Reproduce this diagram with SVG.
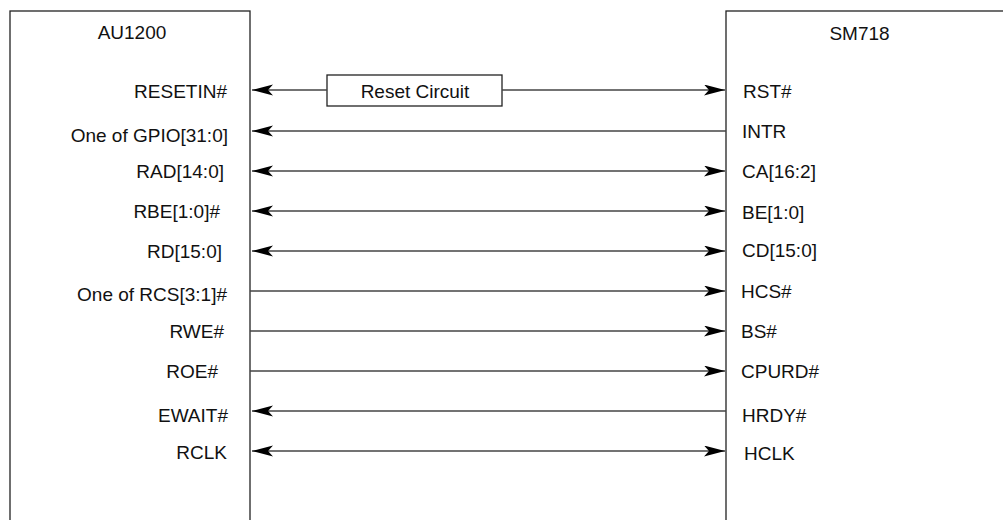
<svg xmlns="http://www.w3.org/2000/svg" width="1003" height="520" viewBox="0 0 1003 520">
<style>
text{font-family:"Liberation Sans",Arial,sans-serif;font-size:19px;fill:#111}
.l{text-anchor:end}
.r{text-anchor:start}
.c{text-anchor:middle}
.box{fill:#fff;stroke:#222;stroke-width:1.3}
.w{fill:none;stroke:#444;stroke-width:1.3}
.a{marker-end:url(#ah)}
.s{marker-start:url(#ah)}
</style>
<defs>
<marker id="ah" markerUnits="userSpaceOnUse" markerWidth="22" markerHeight="12" refX="21" refY="5.5" orient="auto-start-reverse" viewBox="0 0 22 12">
<path d="M0,0 L21,5.5 L0,11 L5,5.5 Z" fill="#000"/>
</marker>
</defs>
<rect width="1003" height="520" fill="#fff"/>
<g id="au1200">
<rect class="box" x="10" y="11" width="240" height="530"/>
<text class="c" x="132" y="39">AU1200</text>
<text class="l" x="227" y="97.5">RESETIN#</text>
<text class="l" x="228" y="141.5">One of GPIO[31:0]</text>
<text class="l" x="224" y="178">RAD[14:0]</text>
<text class="l" x="220" y="218">RBE[1:0]#</text>
<text class="l" x="222" y="257.5">RD[15:0]</text>
<text class="l" x="227" y="301">One of RCS[3:1]#</text>
<text class="l" x="224" y="338">RWE#</text>
<text class="l" x="218" y="378">ROE#</text>
<text class="l" x="228" y="421.5">EWAIT#</text>
<text class="l" x="227" y="459">RCLK</text>
</g>
<g id="sm718">
<rect class="box" x="726" y="11" width="300" height="530"/>
<text class="c" x="859.5" y="40">SM718</text>
<text class="r" x="743" y="97.5">RST#</text>
<text class="r" x="742" y="138">INTR</text>
<text class="r" x="742" y="177.5">CA[16:2]</text>
<text class="r" x="742" y="219">BE[1:0]</text>
<text class="r" x="742" y="257">CD[15:0]</text>
<text class="r" x="741" y="298">HCS#</text>
<text class="r" x="741" y="338">BS#</text>
<text class="r" x="741" y="378">CPURD#</text>
<text class="r" x="742" y="421.5">HRDY#</text>
<text class="r" x="744" y="460">HCLK</text>
</g>
<g id="reset-circuit">
<rect class="box" x="327" y="75" width="175" height="31"/>
<text class="c" x="415" y="98">Reset Circuit</text>
</g>
<g id="connectors">
<line class="w a" x1="327" y1="90" x2="252" y2="90"/>
<line class="w a" x1="502" y1="90" x2="725" y2="90"/>
<line class="w a" x1="726" y1="131" x2="252" y2="131"/>
<line class="w a s" x1="252" y1="171" x2="725" y2="171"/>
<line class="w a s" x1="252" y1="211" x2="725" y2="211"/>
<line class="w a s" x1="252" y1="251" x2="725" y2="251"/>
<line class="w a" x1="250" y1="291" x2="725" y2="291"/>
<line class="w a" x1="250" y1="331" x2="725" y2="331"/>
<line class="w a" x1="250" y1="371" x2="725" y2="371"/>
<line class="w a" x1="726" y1="411" x2="252" y2="411"/>
<line class="w a s" x1="252" y1="451" x2="725" y2="451"/>
</g>
</svg>
